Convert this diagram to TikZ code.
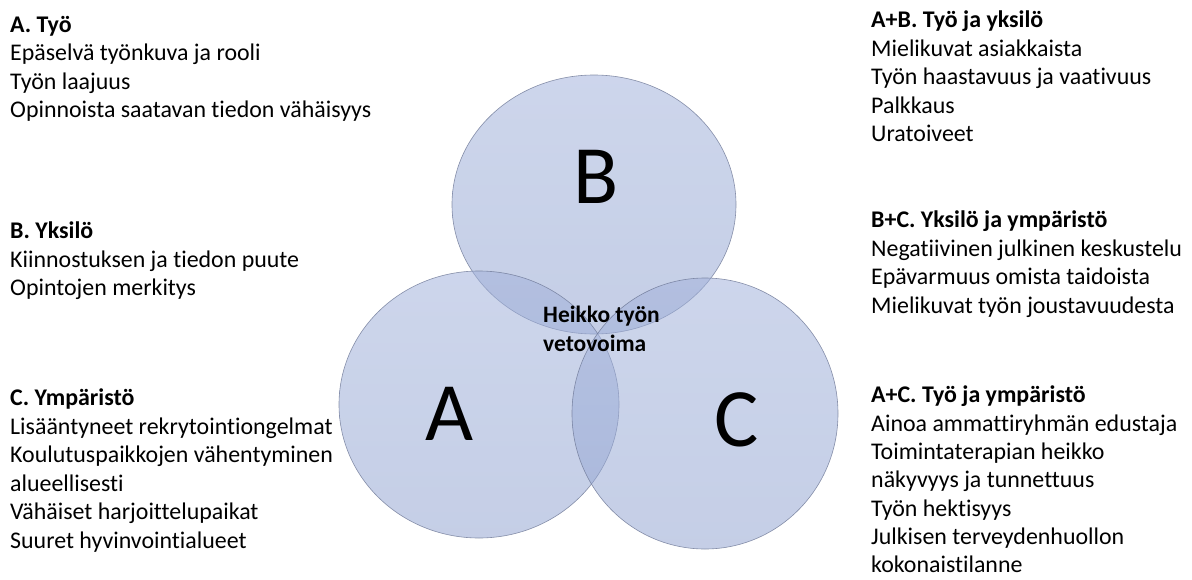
\documentclass[tikz,border=0pt]{standalone}
\usepackage{fontspec}
\setmainfont[Ligatures=NoCommon]{Carlito}
\usetikzlibrary{shapes.geometric}
\definecolor{venntop}{RGB}{162,178,219}
\definecolor{vennbottom}{RGB}{147,165,209}
\definecolor{vennline}{RGB}{110,120,150}
\tikzset{
  venn/.style={ellipse, draw=vennline, line width=0.6pt, draw opacity=0.8,
    top color=venntop, bottom color=vennbottom, fill opacity=0.54,
    inner sep=0pt, outer sep=0pt},
  bigletter/.style={font=\fontsize{83}{90}\selectfont, inner sep=0pt, anchor=base},
  textblock/.style={align=left, anchor=north west, inner sep=0pt,
    font=\fontsize{23.9}{28.5}\selectfont},
  centrelabel/.style={align=left, anchor=north west, inner sep=0pt,
    font=\fontsize{23.5}{29}\selectfont\bfseries},
}
\begin{document}
\begin{tikzpicture}[x=1pt, y=-1pt]
  \useasboundingbox (0,0) rectangle (1192,579);

  % the three overlapping sets
  \node[venn, minimum width=284pt, minimum height=259pt] (setB) at (594,204.5) {};
  \node[venn, minimum width=280pt, minimum height=267pt] (setA) at (479,404.5) {};
  \node[venn, minimum width=266pt, minimum height=271pt] (setC) at (705,413.5) {};

  % set letters
  \node[bigletter] (letB) at (596,203) {B};
  \node[bigletter] (letA) at (450,440) {A};
  \node[bigletter] (letC) at (737,446) {C};

  % common centre
  \node[centrelabel] (core) at (543,306) {Heikko työn\\vetovoima};

  % left column
  \node[textblock] (grpA) at (10,16) {\textbf{A. Työ}\\
    Epäselvä työnkuva ja rooli\\
    Työn laajuus\\
    Opinnoista saatavan tiedon vähäisyys};
  \node[textblock] (grpB) at (10,222) {\textbf{B. Yksilö}\\
    Kiinnostuksen ja tiedon puute\\
    Opintojen merkitys};
  \node[textblock] (grpC) at (10,389) {\textbf{C. Ympäristö}\\
    Lisääntyneet rekrytointiongelmat\\
    Koulutuspaikkojen vähentyminen\\
    alueellisesti\\
    Vähäiset harjoittelupaikat\\
    Suuret hyvinvointialueet};

  % right column
  \node[textblock] (grpAB) at (871,11) {\textbf{A+B. Työ ja yksilö}\\
    Mielikuvat asiakkaista\\
    Työn haastavuus ja vaativuus\\
    Palkkaus\\
    Uratoiveet};
  \node[textblock] (grpBC) at (871,211) {\textbf{B+C. Yksilö ja ympäristö}\\
    Negatiivinen julkinen keskustelu\\
    Epävarmuus omista taidoista\\
    Mielikuvat työn joustavuudesta};
  \node[textblock, font=\fontsize{23.9}{28.3}\selectfont] (grpAC) at (871,386) {\textbf{A+C. Työ ja ympäristö}\\
    Ainoa ammattiryhmän edustaja\\
    Toimintaterapian heikko\\
    näkyvyys ja tunnettuus\\
    Työn hektisyys\\
    Julkisen terveydenhuollon\\
    kokonaistilanne};
\end{tikzpicture}
\end{document}
